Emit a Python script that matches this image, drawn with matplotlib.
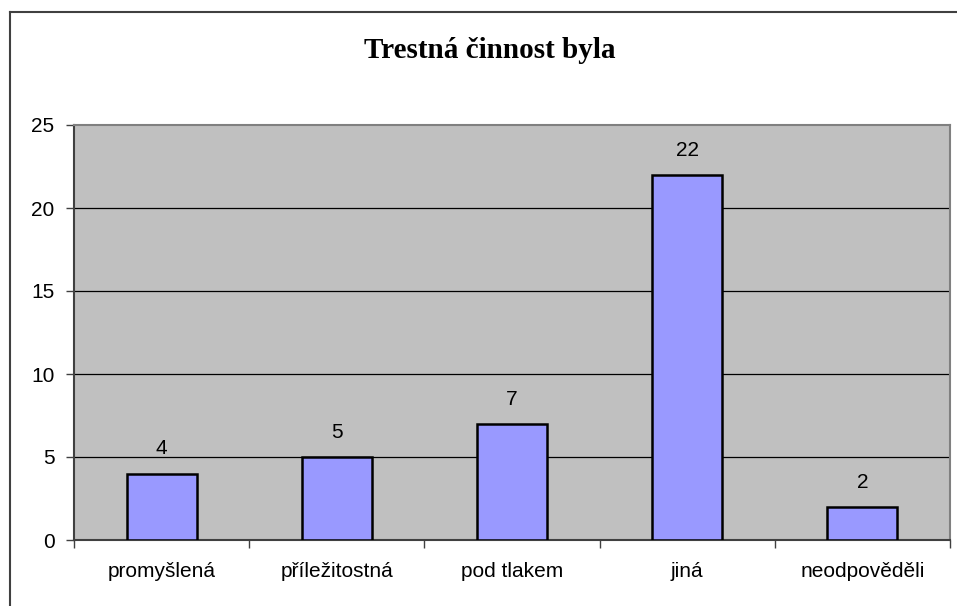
import matplotlib.pyplot as plt
from matplotlib.lines import Line2D
import numpy as np

categories = ['promyšlená', 'příležitostná', 'pod tlakem', 'jiná', 'neodpověděli']
values = [4, 5, 7, 22, 2]
y_ticks = [0, 5, 10, 15, 20, 25]
title = 'Trestná činnost byla'

W, H = 957, 606
fig = plt.figure(figsize=(W / 100, H / 100), dpi=100)

# outer frame (only left and top edges visible)
fig.add_artist(Line2D([10 / W, 10 / W], [0, 1 - 12 / H], color='#404040', lw=1.5,
                      transform=fig.transFigure))
fig.add_artist(Line2D([10 / W, 1], [1 - 12 / H, 1 - 12 / H], color='#404040', lw=1.5,
                      transform=fig.transFigure))

ax = fig.add_axes([74 / W, (H - 540) / H, 876 / W, 415 / H])
ax.set_facecolor('#C0C0C0')

x = np.arange(len(categories))
ax.bar(x, values, width=0.4, color='#9999FF', edgecolor='black', linewidth=1.8, zorder=3)
for xi, v in zip(x, values):
    ax.annotate(str(v), (xi, v), xytext=(0, 11), textcoords='offset points',
                ha='center', va='bottom', fontsize=15, family='Liberation Sans')

ax.set_xlim(-0.5, len(categories) - 0.5)
ax.set_ylim(0, 25)
ax.set_yticks(y_ticks)
ax.set_yticklabels([str(t) for t in y_ticks], fontsize=15, family='Liberation Sans')
for t in y_ticks[1:-1]:
    ax.axhline(t, color='black', lw=0.9, zorder=1)

ax.set_xticks(x)
ax.set_xticklabels(categories, fontsize=15, family='Liberation Sans')
ax.set_xticks(np.arange(-0.5, len(categories)), minor=True)
ax.tick_params(axis='x', which='major', length=0, pad=16)
ax.tick_params(axis='x', which='minor', length=6, width=1, color='#404040', direction='out')
ax.tick_params(axis='y', length=6, width=1, color='#404040', direction='out', pad=8)

ax.spines['left'].set_color('#404040')
ax.spines['bottom'].set_color('#404040')
ax.spines['top'].set_color('#808080')
ax.spines['right'].set_color('#808080')
for s in ax.spines.values():
    s.set_linewidth(1.5)

fig.text(490 / W, 1 - 58 / H, title, ha='center', va='baseline', fontsize=21,
         fontweight='bold', family='Liberation Serif')

fig.savefig('out.png', dpi=100)
